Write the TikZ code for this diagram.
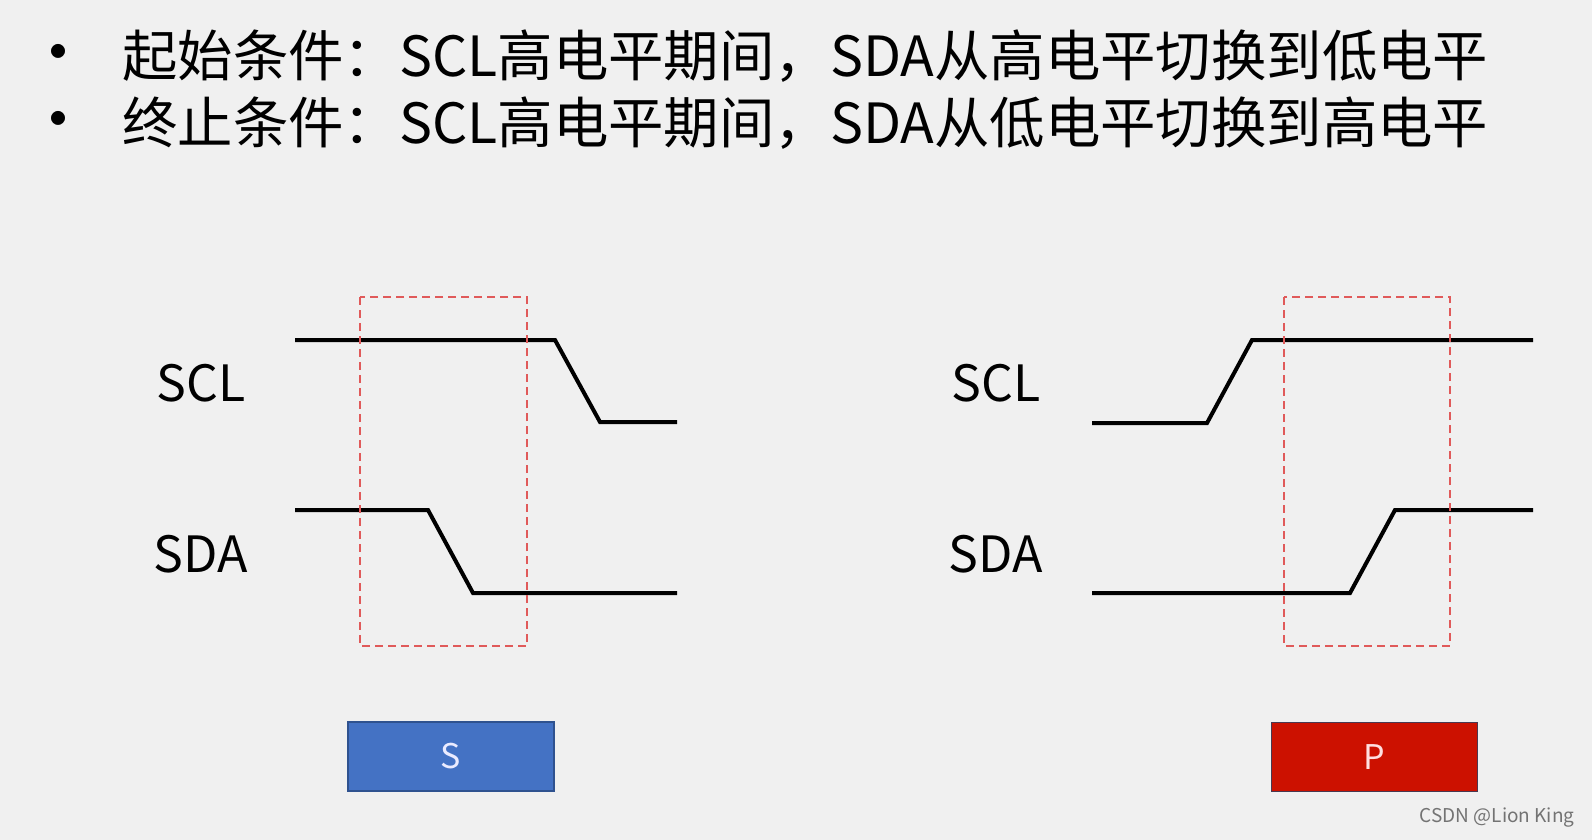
\documentclass[tikz,border=0pt]{standalone}
\usepackage{fontspec}
\setmainfont{Noto Sans CJK SC}
\usetikzlibrary{positioning}

\definecolor{bggray}{HTML}{F0F0F0}
\definecolor{winred}{HTML}{E05A5A}
\definecolor{sblue}{HTML}{4472C4}
\definecolor{sedge}{HTML}{2F528F}
\definecolor{pred}{HTML}{CC1100}
\definecolor{pedge}{HTML}{4A3850}

\tikzset{
  wave/.style={line width=4pt, line join=miter},
  window/.style={draw=winred, line width=1.4pt, dash pattern=on 8pt off 5pt},
  sig/.style={font=\fontsize{50}{56}\selectfont, anchor=base},
  title/.style={font=\fontsize{55.4}{62}\selectfont, anchor=base west, inner sep=0pt},
  dot/.style={font=\fontsize{66}{70}\selectfont, inner sep=0pt, anchor=base},
  flag/.style={draw, line width=1.5pt, minimum width=206pt, minimum height=69pt,
    inner sep=0pt, font=\fontsize{34}{38}\selectfont}
}

\begin{document}
\begin{tikzpicture}[x=1pt, y=-1pt]
      \fill[bggray] (0,0) rectangle (1592,840);
      \useasboundingbox (0,0) rectangle (1592,840);

      % bullet lines
      \node[dot] (b1) at (58,77) {\smash{•}};
      \node[dot] (b2) at (58,143) {\smash{•}};
      \node[title] (start text) at (122,77) {起始条件：SCL高电平期间，SDA从高电平切换到低电平};
      \node[title] (stop text)  at (122,143) {终止条件：SCL高电平期间，SDA从低电平切换到高电平};

      % start condition
      \node[sig] (scl s) at (201,401) {SCL};
      \node[sig] (sda s) at (201,572) {SDA};
      \draw[wave] (295,340) -- (555,340) -- (600,422) -- (677,422);
      \draw[wave] (295,510) -- (428,510) -- (473,593) -- (677,593);
      \draw[window] (360,297) rectangle (527,646);
      \node[flag, draw=sedge, fill=sblue, text=blue!8] (S) at (451,756.5) {S};

      % stop condition
      \node[sig] (scl p) at (996,401) {SCL};
      \node[sig] (sda p) at (996,572) {SDA};
      \draw[wave] (1092,423) -- (1207,423) -- (1252,340) -- (1533,340);
      \draw[wave] (1092,593) -- (1350,593) -- (1395,510) -- (1533,510);
      \draw[window] (1284,297) rectangle (1450,646);
      \node[flag, draw=pedge, fill=pred, text=red!12] (P) at (1374.5,757) {P};

      \node[font=\fontsize{19}{22}\selectfont, text=black!55, anchor=east] (mark) at (1578,818) {CSDN @Lion King};
    \end{tikzpicture}
\end{document}
